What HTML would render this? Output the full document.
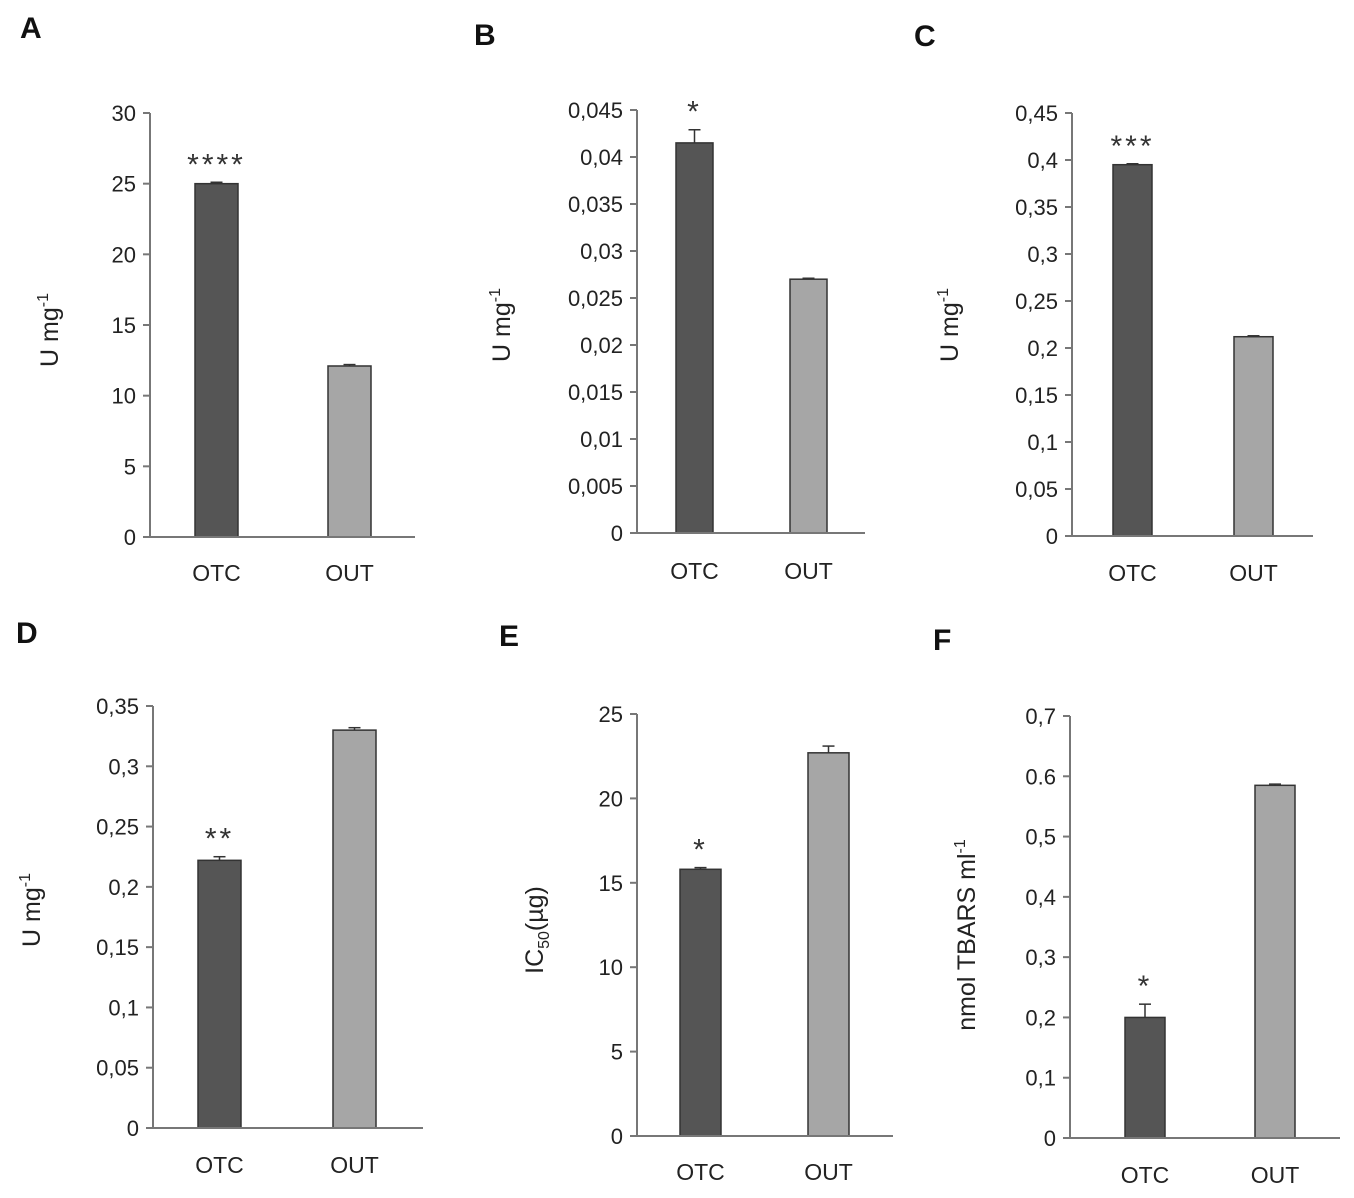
<!DOCTYPE html>
<html><head><meta charset="utf-8"><style>
html,body{margin:0;padding:0;background:#fff;}
svg{display:block;font-family:"Liberation Sans",sans-serif;}
</style></head><body>
<svg id="fig" width="1354" height="1198" viewBox="0 0 1354 1198" xmlns="http://www.w3.org/2000/svg"></svg>
<script>
const categories = ["OTC","OUT"];
const valuesA = [25.0, 12.1];  const errA = [0.1, 0.1];
const valuesB = [0.0415, 0.027]; const errB = [0.0014, 0.0001];
const valuesC = [0.395, 0.212]; const errC = [0.001, 0.001];
const valuesD = [0.222, 0.330]; const errD = [0.003, 0.002];
const valuesE = [15.8, 22.7]; const errE = [0.1, 0.4];
const valuesF = [0.200, 0.585]; const errF = [0.022, 0.002];
const ticksA = ["0","5","10","15","20","25","30"];
const ticksB = ["0","0,005","0,01","0,015","0,02","0,025","0,03","0,035","0,04","0,045"];
const ticksC = ["0","0,05","0,1","0,15","0,2","0,25","0,3","0,35","0,4","0,45"];
const ticksD = ["0","0,05","0,1","0,15","0,2","0,25","0,3","0,35"];
const ticksE = ["0","5","10","15","20","25"];
const ticksF = ["0","0,1","0,2","0,3","0,4","0,5","0.6","0,7"];
const starsA = ["****",""]; const starsB = ["*",""]; const starsC = ["***",""];
const starsD = ["**",""]; const starsE = ["*",""]; const starsF = ["*",""];

const NS="http://www.w3.org/2000/svg";
const svg=document.getElementById('fig');
function mk(tag,attrs,parent,text){const e=document.createElementNS(NS,tag);for(const k in attrs)e.setAttribute(k,attrs[k]);if(text!==undefined)e.textContent=text;(parent||svg).appendChild(e);return e;}

const panels=[
 {id:"a",letter:"A",lx:20,ly:38,ax:150,top:113,bot:537,xend:415,max:30,ticks:ticksA,vals:valuesA,err:errA,stars:starsA,bx:[195,328],bw:43,laby:573,ylx:58,yly:330,yl:"U mg",sup:"-1"},
 {id:"b",letter:"B",lx:474,ly:45,ax:637,top:110,bot:533,xend:865,max:0.045,ticks:ticksB,vals:valuesB,err:errB,stars:starsB,bx:[676,790],bw:37,laby:571,ylx:510,yly:325,yl:"U mg",sup:"-1"},
 {id:"c",letter:"C",lx:914,ly:46,ax:1072,top:113,bot:536,xend:1313,max:0.45,ticks:ticksC,vals:valuesC,err:errC,stars:starsC,bx:[1113,1234],bw:39,laby:573,ylx:958,yly:325,yl:"U mg",sup:"-1"},
 {id:"d",letter:"D",lx:16,ly:643,ax:153,top:706,bot:1128,xend:423,max:0.35,ticks:ticksD,vals:valuesD,err:errD,stars:starsD,bx:[198,333],bw:43,laby:1165,ylx:40,yly:910,yl:"U mg",sup:"-1"},
 {id:"e",letter:"E",lx:499,ly:646,ax:637,top:714,bot:1136,xend:893,max:25,ticks:ticksE,vals:valuesE,err:errE,stars:starsE,bx:[680,808],bw:41,laby:1172,ylx:543,yly:930,yl:"IC",sub:"50",yl2:"(µg)"},
 {id:"f",letter:"F",lx:933,ly:650,ax:1070,top:716,bot:1138,xend:1340,max:0.7,ticks:ticksF,vals:valuesF,err:errF,stars:starsF,bx:[1125,1255],bw:40,laby:1175,ylx:975,yly:935,yl:"nmol TBARS ml",sup:"-1"}
];
const fills=["#555555","#a6a6a6"];
panels.forEach(p=>{
  const g=mk('g',{});
  
  
  const y=v=>p.bot-(v/p.max)*(p.bot-p.top);
  const L=mk('text',{x:p.lx,y:p.ly,'font-size':30,'font-weight':'bold',fill:'#111'},g,p.letter);
  
  
  const n=p.ticks.length-1;
  p.ticks.forEach((t,i)=>{
    const v=p.max*i/n, yy=y(v);
    mk('line',{x1:p.ax-7,x2:p.ax,y1:yy,y2:yy,stroke:'#777','stroke-width':2},g);
    const tl=mk('text',{x:p.ax-14,y:yy+8,'font-size':22,'text-anchor':'end',fill:'#222'},g,t);
    
    
  });
  const ya=mk('line',{x1:p.ax,x2:p.ax,y1:p.top,y2:p.bot,stroke:'#777','stroke-width':2},g);
  
  
  categories.forEach((c,i)=>{
    const x0=p.bx[i], yt=y(p.vals[i]);
    const b=mk('rect',{x:x0,y:yt,width:p.bw,height:p.bot-yt,fill:fills[i],stroke:'#333','stroke-width':1.5},g);
    
    
    const cx=x0+p.bw/2, ye=y(p.vals[i]+p.err[i]);
    mk('line',{x1:cx,x2:cx,y1:ye,y2:yt,stroke:'#333','stroke-width':1.5},g);
    mk('line',{x1:cx-6,x2:cx+6,y1:ye,y2:ye,stroke:'#333','stroke-width':1.5},g);
    if(p.stars[i]){
      const s=mk('text',{x:cx,y:ye-8,'font-size':30,'text-anchor':'middle',fill:'#333','letter-spacing':3},g,p.stars[i]);
      
      
    }
    const xl=mk('text',{x:cx,y:p.laby+8,'font-size':23,'text-anchor':'middle',fill:'#222'},g,c);
    
    
  });
  const xa=mk('line',{x1:p.ax-7,x2:p.xend,y1:p.bot,y2:p.bot,stroke:'#777','stroke-width':2},g);
  
  
  const yt=mk('text',{x:0,y:0,'font-size':25,'text-anchor':'middle',fill:'#222',transform:`translate(${p.ylx},${p.yly}) rotate(-90)`},g);
  
  
  mk('tspan',{},yt,p.yl);
  if(p.sup) mk('tspan',{'font-size':16,dy:-10},yt,p.sup);
  if(p.sub){mk('tspan',{'font-size':16,dy:6},yt,p.sub);mk('tspan',{dy:-6},yt,p.yl2);}
});
</script>
</body></html>
